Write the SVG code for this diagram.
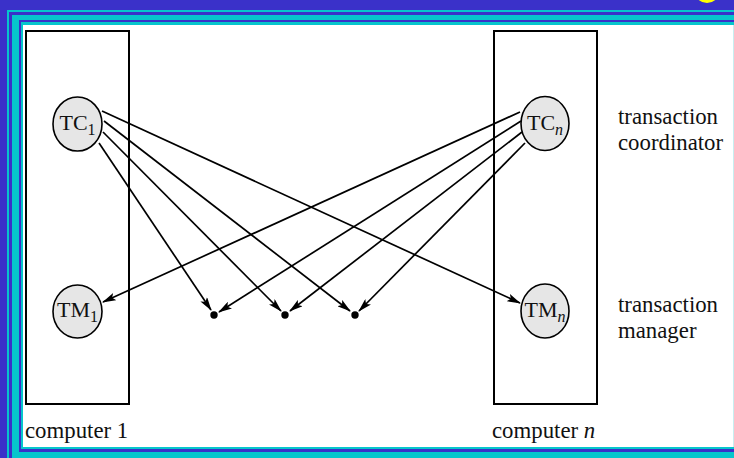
<svg xmlns="http://www.w3.org/2000/svg" width="734" height="458" viewBox="0 0 734 458">
<style>
.box{fill:none;stroke:#000;stroke-width:2}
.node{fill:#e6e6e6;stroke:#000;stroke-width:1.6}
.lbl{font-family:"Liberation Serif","Times New Roman",serif;font-size:22px;fill:#111}
.sub{font-size:16px}
.txt{font-family:"Liberation Serif","Times New Roman",serif;font-size:22.8px;fill:#111}
.edge{fill:none;stroke:#000;stroke-width:1.7;marker-end:url(#arr)}
.dot{fill:#000}
</style>
<defs>
<marker id="arr" viewBox="0 0 14 8" refX="13" refY="4" markerWidth="14" markerHeight="8" markerUnits="userSpaceOnUse" orient="auto">
<path d="M0,0 L14,4 L0,8 L3,4 Z" fill="#000"/>
</marker>
</defs>
<g id="frame">
<rect x="0" y="0" width="734" height="458" fill="#3a31c9"/>
<rect x="7" y="10" width="740" height="460" fill="#06c6cc"/>
<rect x="9" y="12" width="740" height="460" fill="#3a31c9"/>
<rect x="12" y="15" width="740" height="460" fill="#06c6cc"/>
<rect x="19" y="20" width="740" height="432" fill="#3a31c9"/>
<rect x="21" y="22" width="740" height="427" fill="#06c6cc"/>
<rect x="23" y="25" width="710" height="422" fill="#ffffff"/>
<rect x="733" y="25" width="1" height="422" fill="#c8eef0"/>
<circle cx="707" cy="-10" r="13" fill="#ffff00"/>
</g>
<g id="computer1">
<rect class="box" x="26" y="31" width="103" height="373"/>
<text class="txt" x="25" y="438">computer 1</text>
</g>
<g id="computern">
<rect class="box" x="494" y="31" width="103" height="373"/>
<text class="txt" x="492" y="438">computer <tspan font-style="italic">n</tspan></text>
</g>
<g id="TC1">
<ellipse class="node" cx="77.5" cy="124" rx="24.5" ry="27"/>
<text class="lbl" x="77.5" y="130" text-anchor="middle">TC<tspan class="sub" dy="5">1</tspan></text>
</g>
<g id="TM1">
<ellipse class="node" cx="77.5" cy="311.5" rx="24.5" ry="26.5"/>
<text class="lbl" x="77.5" y="317" text-anchor="middle">TM<tspan class="sub" dy="5">1</tspan></text>
</g>
<g id="TCn">
<ellipse class="node" cx="545" cy="123.5" rx="24" ry="27"/>
<text class="lbl" x="545" y="130" text-anchor="middle">TC<tspan class="sub" dy="5" font-style="italic">n</tspan></text>
</g>
<g id="TMn">
<ellipse class="node" cx="545" cy="311" rx="24" ry="27"/>
<text class="lbl" x="545" y="317" text-anchor="middle">TM<tspan class="sub" dy="5" font-style="italic">n</tspan></text>
</g>
<g id="dot1"><circle class="dot" cx="214" cy="315" r="3.7"/></g>
<g id="dot2"><circle class="dot" cx="285" cy="315" r="3.7"/></g>
<g id="dot3"><circle class="dot" cx="355" cy="315" r="3.7"/></g>
<g id="labels">
<text class="txt" x="618" y="124">transaction</text>
<text class="txt" x="618" y="150">coordinator</text>
<text class="txt" x="618" y="312">transaction</text>
<text class="txt" x="618" y="338">manager</text>
</g>
<g id="connectors">
<line class="edge" x1="102" y1="111" x2="520" y2="303"/>
<line class="edge" x1="104" y1="121" x2="350" y2="311"/>
<line class="edge" x1="103" y1="132" x2="281" y2="311"/>
<line class="edge" x1="99" y1="143" x2="211" y2="310"/>
<line class="edge" x1="520" y1="112" x2="103" y2="302"/>
<line class="edge" x1="521" y1="121" x2="219" y2="312"/>
<line class="edge" x1="522" y1="132" x2="290" y2="311"/>
<line class="edge" x1="525" y1="143" x2="359" y2="311"/>
</g>
</svg>
